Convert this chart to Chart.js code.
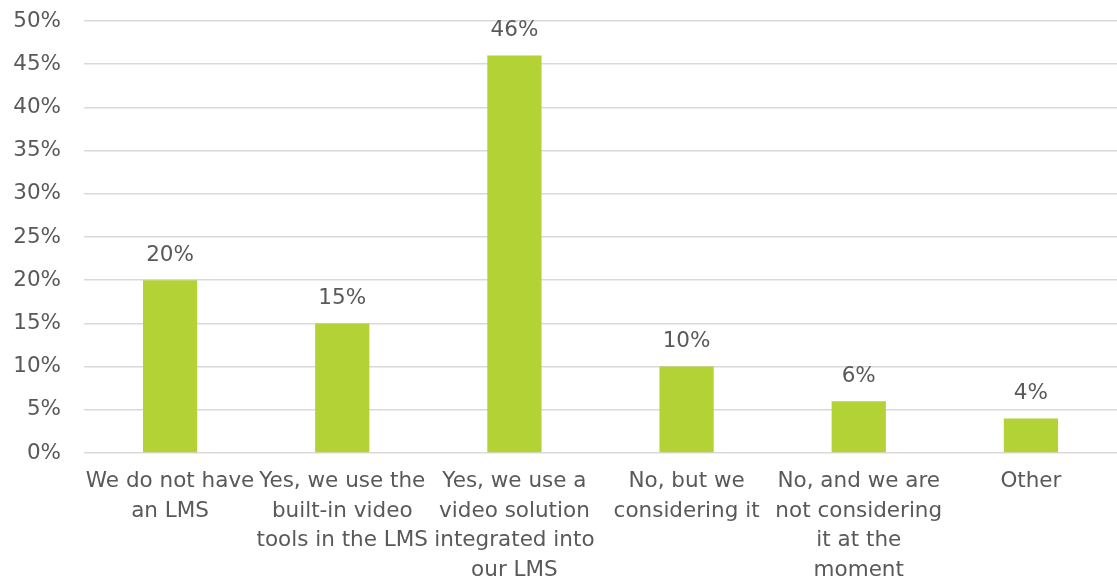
<!DOCTYPE html>
<html>
<head>
<meta charset="utf-8">
<script src="https://cdn.jsdelivr.net/npm/chart.js@4/dist/chart.umd.min.js"></script>
<style>
  html,body{margin:0;padding:0;background:#fff;}
  #wrap{width:1117px;height:579px;position:relative;}
</style>
</head>
<body>
<div id="wrap"><canvas id="lmsChart"></canvas></div>
<script>
const categories = [
  ['We do not have', 'an LMS'],
  ['Yes, we use the', 'built-in video', 'tools in the LMS'],
  ['Yes, we use a', 'video solution', 'integrated into', 'our LMS'],
  ['No, but we', 'considering it'],
  ['No, and we are', 'not considering', 'it at the', 'moment'],
  ['Other']
];
const shares = [20, 15, 46, 10, 6, 4];
const yTicks = [0, 5, 10, 15, 20, 25, 30, 35, 40, 45, 50];

const textColor = '#595959';
const fontFamily = '"DejaVu Sans", Verdana, sans-serif';
const fontSize = 21.5;

// value labels above each bar
const barValues = {
  id: 'barValues',
  afterDatasetsDraw(chart){
    const ctx = chart.ctx;
    const meta = chart.getDatasetMeta(0);
    ctx.save();
    ctx.font = fontSize + 'px ' + fontFamily;
    ctx.fillStyle = textColor;
    ctx.textAlign = 'center';
    ctx.textBaseline = 'middle';
    meta.data.forEach((bar, i)=>{
      ctx.fillText(shares[i] + '%', bar.x, bar.y - 25);
    });
    ctx.restore();
  }
};

const ctx = document.getElementById('lmsChart').getContext('2d');
new Chart(ctx, {
  type: 'bar',
  data: {
    labels: categories,
    datasets: [{
      data: shares,
      backgroundColor: '#b2d235',
      barPercentage: 0.315,
      categoryPercentage: 1
    }]
  },
  plugins: [barValues],
  options: {
    responsive: true,
    maintainAspectRatio: false,
    animation: false,
    layout: { padding: { top: 21, right: 0, bottom: 0, left: 0 } },
    plugins: { legend: { display:false }, tooltip: { enabled:false } },
    scales: {
      x: {
        grid: { display:false, drawTicks:false },
        border: { display:false },
        ticks: {
          color: textColor,
          font: { family: fontFamily, size: fontSize, lineHeight: 1.37 },
          padding: 14,
          maxRotation: 0,
          autoSkip: false
        },
        afterFit(scale){ scale.height = 126; scale.paddingTop = 0; scale.paddingBottom = 0; }
      },
      y: {
        min: 0,
        max: 50,
        afterBuildTicks(scale){ scale.ticks = yTicks.map(v=>({value:v})); },
        grid: { color:'#d9d9d9', lineWidth:1.5, drawTicks:false },
        border: { display:false },
        ticks: {
          color: textColor,
          font: { family: fontFamily, size: fontSize },
          padding: 23,
          callback: (v)=> v + '%'
        },
        afterFit(scale){ scale.width = 84; scale.paddingTop = 0; scale.paddingBottom = 0; }
      }
    }
  }
});
</script>
</body>
</html>
